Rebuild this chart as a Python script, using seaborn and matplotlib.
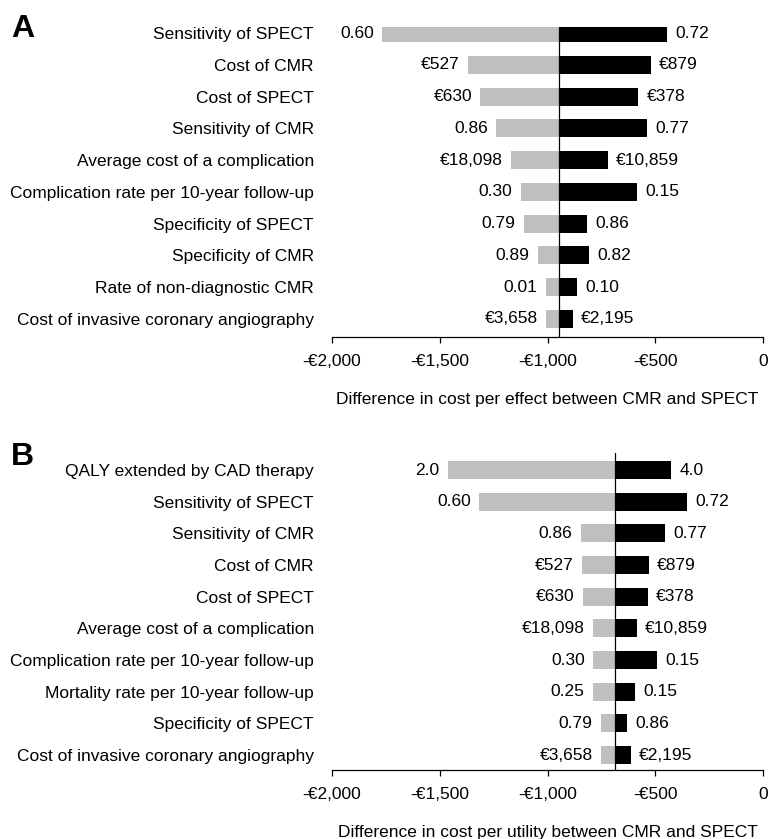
"""
Tornado diagrams: one-way sensitivity analysis CMR vs SPECT.
"""

import matplotlib

matplotlib.use("Agg")
import matplotlib.pyplot as plt  # noqa: E402
import matplotlib.ticker as mticker  # noqa: E402
import pandas as pd  # noqa: E402
import seaborn as sns  # noqa: E402

# Panel A: cost per effect
a_labels = [
    "Sensitivity of SPECT",
    "Cost of CMR",
    "Cost of SPECT",
    "Sensitivity of CMR",
    "Average cost of a complication",
    "Complication rate per 10-year follow-up",
    "Specificity of SPECT",
    "Specificity of CMR",
    "Rate of non-diagnostic CMR",
    "Cost of invasive coronary angiography",
]
a_low = [-1767, -1369, -1311, -1239, -1170, -1124, -1109, -1044, -1007, -1007]
a_high = [-447, -520, -579, -538, -720, -584, -817, -807, -863, -882]
a_low_text = ["0.60", "€527", "€630", "0.86", "€18,098", "0.30", "0.79", "0.89", "0.01", "€3,658"]
a_high_text = ["0.72", "€879", "€378", "0.77", "€10,859", "0.15", "0.86", "0.82", "0.10", "€2,195"]
a_base = -947

# Panel B: cost per utility
b_labels = [
    "QALY extended by CAD therapy",
    "Sensitivity of SPECT",
    "Sensitivity of CMR",
    "Cost of CMR",
    "Cost of SPECT",
    "Average cost of a complication",
    "Complication rate per 10-year follow-up",
    "Mortality rate per 10-year follow-up",
    "Specificity of SPECT",
    "Cost of invasive coronary angiography",
]
b_low = [-1464, -1317, -845, -840, -835, -789, -789, -789, -752, -752]
b_high = [-427, -353, -455, -529, -534, -585, -492, -594, -631, -613]
b_low_text = ["2.0", "0.60", "0.86", "€527", "€630", "€18,098", "0.30", "0.25", "0.79", "€3,658"]
b_high_text = ["4.0", "0.72", "0.77", "€879", "€378", "€10,859", "0.15", "0.15", "0.86", "€2,195"]
b_base = -687

x_ticks = [-2000, -1500, -1000, -500, 0]
FS = 12.5


def euro_fmt(v, pos):
    if v == 0:
        return "0"
    return f"-€{abs(v):,.0f}"


def tornado(ax, labels, low, high, low_text, high_text, base, xlabel, ylim):
    df = pd.DataFrame({"label": labels, "low": low, "high": high})
    df["low_w"] = df["low"] - base
    df["high_w"] = df["high"] - base

    sns.barplot(data=df, y="label", x="low_w", ax=ax, color="#bfbfbf",
                width=0.57, left=base, saturation=1, orient="h", edgecolor="none")
    sns.barplot(data=df, y="label", x="high_w", ax=ax, color="black",
                width=0.57, left=base, saturation=1, orient="h", edgecolor="none")

    for i in range(len(labels)):
        ax.annotate(low_text[i], (low[i], i), xytext=(-6, 0), textcoords="offset points",
                    ha="right", va="center", fontsize=FS)
        ax.annotate(high_text[i], (high[i], i), xytext=(6, 0), textcoords="offset points",
                    ha="left", va="center", fontsize=FS)

    ax.axvline(base, color="black", lw=0.9)
    ax.set_xlim(-2000, 0)
    ax.set_ylim(*ylim)
    ax.set_xticks(x_ticks)
    ax.xaxis.set_major_formatter(mticker.FuncFormatter(euro_fmt))
    ax.set_xlabel(xlabel, fontsize=FS, labelpad=17)
    ax.set_ylabel("")
    ax.tick_params(axis="x", direction="out", length=4, width=0.9, pad=8, labelsize=FS,
                   bottom=True, color="black", labelcolor="black")
    ax.tick_params(axis="y", length=0, pad=13, labelsize=FS, labelcolor="black")
    for side in ["top", "right", "left"]:
        ax.spines[side].set_visible(False)
    ax.spines["bottom"].set_color("black")
    ax.spines["bottom"].set_linewidth(0.9)


sns.set_theme(style="white")
plt.rcParams["font.family"] = ["Liberation Sans", "DejaVu Sans"]
plt.rcParams["text.color"] = "black"
plt.rcParams["axes.labelcolor"] = "black"

W, H = 769, 839
fig = plt.figure(figsize=(W / 100, H / 100), dpi=100)

left = 332 / W
width = (763 - 332) / W
ax_a = fig.add_axes([left, 1 - 337 / H, width, (337 - 27) / H])
ax_b = fig.add_axes([left, 1 - 770 / H, width, (770 - 453) / H])

tornado(ax_a, a_labels, a_low, a_high, a_low_text, a_high_text, a_base,
        "Difference in cost per effect between CMR and SPECT", (9.57, -0.19))
tornado(ax_b, b_labels, b_low, b_high, b_low_text, b_high_text, b_base,
        "Difference in cost per utility between CMR and SPECT", (9.47, -0.54))

fig.text(11 / W, 1 - 29 / H, "A", fontsize=23, fontweight="bold", va="center", ha="left")
fig.text(11 / W, 1 - 457 / H, "B", fontsize=23, fontweight="bold", va="center", ha="left")

fig.savefig("out.png", dpi=100)
plt.close(fig)
